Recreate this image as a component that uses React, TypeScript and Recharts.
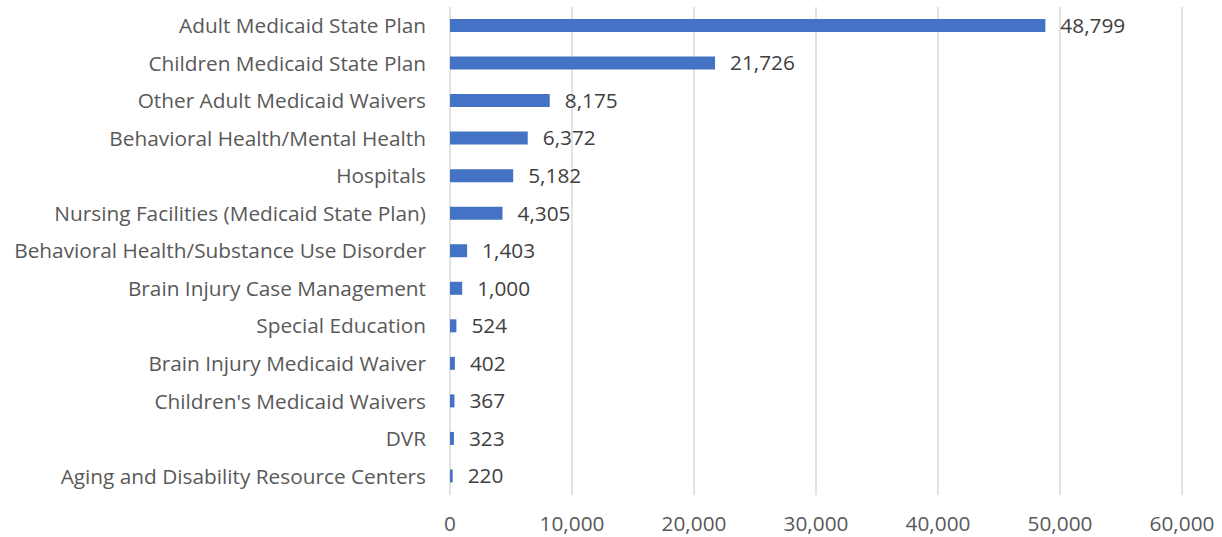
import { BarChart, Bar, XAxis, YAxis, CartesianGrid, LabelList } from 'recharts';

const categories = [
  'Adult Medicaid State Plan',
  'Children Medicaid State Plan',
  'Other Adult Medicaid Waivers',
  'Behavioral Health/Mental Health',
  'Hospitals',
  'Nursing Facilities (Medicaid State Plan)',
  'Behavioral Health/Substance Use Disorder',
  'Brain Injury Case Management',
  'Special Education',
  'Brain Injury Medicaid Waiver',
  "Children's Medicaid Waivers",
  'DVR',
  'Aging and Disability Resource Centers',
];

const counts = [48799, 21726, 8175, 6372, 5182, 4305, 1403, 1000, 524, 402, 367, 323, 220];

const xTicks = [0, 10000, 20000, 30000, 40000, 50000, 60000];

const data = categories.map((name, i) => ({ name, value: counts[i] }));

const fmt = (v: number) => v.toLocaleString('en-US');
const font = "'Open Sans', sans-serif";

export default function App() {
  return (
    <div style={{ position: 'absolute', left: 0, top: 0, background: '#fff' }}>
      <BarChart
        width={1222}
        height={537}
        data={data}
        layout="vertical"
        margin={{ top: 7, right: 40, bottom: 12, left: 0 }}
      >
        <CartesianGrid horizontal={false} stroke="#d9d9d9" strokeWidth={1.5} />
        <XAxis
          type="number"
          domain={[0, 60000]}
          ticks={xTicks}
          tickFormatter={fmt}
          axisLine={false}
          tickLine={false}
          tickSize={0}
          tickMargin={21}
          height={30}
          tick={{ fill: '#595959', fontSize: 20.8, fontFamily: font }}
        />
        <YAxis
          type="category"
          dataKey="name"
          width={450}
          axisLine={false}
          tickLine={false}
          tickSize={0}
          tickMargin={24}
          interval={0}
          tick={{ fill: '#595959', fontSize: 20.8, fontFamily: font }}
        />
        <Bar dataKey="value" fill="#4472c4" barSize={13} isAnimationActive={false}>
          <LabelList
            dataKey="value"
            position="right"
            offset={15}
            formatter={(v: number) => fmt(v)}
            style={{ fill: '#404040', fontSize: 20.8, fontFamily: font }}
          />
        </Bar>
      </BarChart>
    </div>
  );
}
